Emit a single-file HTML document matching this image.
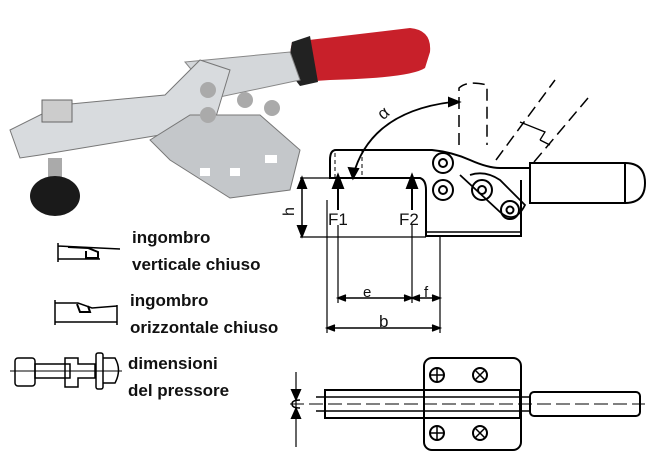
<!DOCTYPE html>
<html><head><style>
body{margin:0;background:#fff;width:650px;height:456px;overflow:hidden}
svg{display:block}
text{font-family:"Liberation Sans",sans-serif;font-weight:bold;fill:#111}
</style></head><body>
<svg width="650" height="456" viewBox="0 0 650 456">
<!-- photo approximation -->
<g>
<path d="M292 42 L410 28 Q432 30 430 52 L425 68 Q410 78 330 80 L300 82 Q286 70 292 42Z" fill="#c8202a"/>
<path d="M292 42 L310 36 L318 82 L300 86 Q286 70 292 42Z" fill="#222"/>
<path d="M185 62 L290 52 L300 80 L215 98 Z" fill="#d4d7da" stroke="#888"/>
<path d="M10 130 L60 105 L165 95 L200 60 L230 70 L215 120 L160 135 L40 155 L20 158Z" fill="#d8dbde" stroke="#777" stroke-width="1"/>
<path d="M150 140 L190 115 L260 115 L300 150 L290 190 L230 198 L170 160Z" fill="#c4c7ca" stroke="#777" stroke-width="1"/>
<rect x="200" y="168" width="10" height="8" fill="#fff"/><rect x="230" y="168" width="10" height="8" fill="#fff"/><rect x="265" y="155" width="12" height="8" fill="#fff"/>
<circle cx="208" cy="90" r="8" fill="#aaa"/><circle cx="208" cy="115" r="8" fill="#aaa"/>
<circle cx="245" cy="100" r="8" fill="#aaa"/><circle cx="272" cy="108" r="8" fill="#aaa"/>
<rect x="42" y="100" width="30" height="22" fill="#ccc" stroke="#666"/>
<rect x="48" y="158" width="14" height="22" fill="#aaa"/>
<ellipse cx="55" cy="196" rx="25" ry="20" fill="#1a1a1a"/>
</g>
<!-- side view drawing -->
<g fill="none" stroke="#000" stroke-width="2">
<path d="M336 150 L432 150 Q452 152 470 160 Q488 168 500 168 L530 168"/>
<path d="M336 150 Q330 150 330 160 L330 178 L420 178 Q426 180 426 190 L426 236 L521 236 L521 180"/>
<line x1="426" y1="232" x2="521" y2="232" stroke-width="1.5"/>
<rect x="530" y="163" width="95" height="40"/>
<path d="M625 163 Q645 163 645 183 Q645 203 625 203"/>
<circle cx="443" cy="163" r="10"/><circle cx="443" cy="190" r="10"/>
<circle cx="443" cy="163" r="4"/><circle cx="443" cy="190" r="4"/>
<path d="M460 175 L500 212 Q515 225 525 205 L500 180 Q485 170 470 175" stroke-width="1.8"/>
<circle cx="482" cy="190" r="10"/><circle cx="482" cy="190" r="4"/>
<circle cx="510" cy="210" r="9"/><circle cx="510" cy="210" r="3.5"/>
<path d="M300 178 L335 178 M300 237 L426 237" stroke-width="1.2"/>
<line x1="302" y1="182" x2="302" y2="232" stroke-width="1.5"/>
<path d="M298 188 L302 178 L306 188Z M298 226 L302 236 L306 226Z" fill="#000"/>
<line x1="338" y1="186" x2="338" y2="210" stroke-width="2"/>
<path d="M333 188 L338 175 L343 188Z" fill="#000"/>
<line x1="412" y1="186" x2="412" y2="210" stroke-width="2"/>
<path d="M407 188 L412 175 L417 188Z" fill="#000"/>
<path d="M338 225 L338 303 M412 225 L412 303 M440 237 L440 333 M327 200 L327 333" stroke-width="1.2"/>
<line x1="338" y1="298" x2="440" y2="298" stroke-width="1.5"/>
<line x1="327" y1="328" x2="440" y2="328" stroke-width="1.5"/>
<path d="M346 295 L338 298 L346 301 M404 295 L412 298 L404 301 M420 295 L412 298 L420 301 M432 295 L440 298 L432 301 M335 325 L327 328 L335 331 M432 325 L440 328 L432 331" fill="#000" stroke-width="1.5"/>
<path d="M353 176 Q370 112 452 102" stroke-width="1.8"/>
<path d="M449 98 L459 102 L449 106Z M349 168 L353 178 L358 169Z" fill="#000"/>
<g stroke-dasharray="12 6" stroke-width="1.5">
<path d="M459 145 L459 88 Q468 80 487 85 L487 145"/>
<path d="M496 160 L555 80 M534 162 L588 98"/>
</g>
<path d="M520 122 L545 132 L540 140 M540 140 L550 145" stroke-width="1.3"/>
<path d="M335 178 L335 150 M362 150 L362 178" stroke-width="1" stroke-dasharray="4 3"/>
</g>
<text x="328" y="225" font-size="17" font-weight="normal" style="font-weight:normal">F1</text>
<text x="399" y="225" font-size="17" style="font-weight:normal">F2</text>
<text x="363" y="297" font-size="15" style="font-weight:normal">e</text>
<text x="424" y="297" font-size="15" style="font-weight:normal">f</text>
<text x="379" y="327" font-size="17" style="font-weight:normal">b</text>
<text x="294" y="216" font-size="16" transform="rotate(-90 294 216)" style="font-weight:normal">h</text>
<text x="380" y="118" font-size="17" transform="rotate(-40 385 115)" style="font-weight:normal">α</text>
<!-- bottom view -->
<g fill="none" stroke="#000" stroke-width="2">
<rect x="424" y="358" width="97" height="92" rx="8"/>
<rect x="325" y="390" width="195" height="28"/>
<line x1="316" y1="397" x2="530" y2="397" stroke-width="1.5"/>
<line x1="316" y1="411" x2="530" y2="411" stroke-width="1.5"/>
<line x1="290" y1="404" x2="645" y2="404" stroke-width="1" stroke-dasharray="14 5"/>
<rect x="530" y="392" width="110" height="24" rx="4"/>
<circle cx="437" cy="375" r="7"/><circle cx="437" cy="433" r="7"/>
<circle cx="480" cy="375" r="7"/><circle cx="480" cy="433" r="7"/>
<path d="M430 375 H444 M437 368 V382 M430 433 H444 M437 426 V440 M475 370 L485 380 M485 370 L475 380 M475 428 L485 438 M485 428 L475 438" stroke-width="1.5"/>
<line x1="296" y1="372" x2="296" y2="447" stroke-width="1.2"/>
<path d="M292 390 L296 399 L300 390Z M292 418 L296 409 L300 418Z" fill="#000"/>
<path d="M300 400 Q292 400 292 404 Q292 408 300 408" stroke-width="1.5"/>
</g>
<!-- legend icons -->
<g fill="none" stroke="#000" stroke-width="1.5">
<path d="M58 243 L58 262 M58 246 L120 249 M58 259 L100 259"/>
<path d="M68 247 L88 248 L98 252 L98 258 L86 258 L86 251" stroke-width="2"/>
<path d="M55 300 L55 325 M55 303 L78 303 L92 308 L117 306 M55 322 L117 322 M117 305 L117 325"/>
<path d="M77 304 L80 312 L90 312 L88 306" stroke-width="2"/>
<rect x="15" y="358" width="20" height="28" rx="3"/>
<rect x="35" y="364" width="35" height="14"/>
<path d="M65 358 L78 358 L78 364 L95 364 L95 378 L78 378 L78 387 L65 387Z"/>
<rect x="96" y="353" width="7" height="36" rx="2"/>
<path d="M103 358 L115 358 Q122 370 115 383 L103 383"/>
<line x1="10" y1="371" x2="122" y2="371" stroke-width="1"/>
</g>
<text x="132" y="243" font-size="17">ingombro</text>
<text x="132" y="270" font-size="17">verticale chiuso</text>
<text x="130" y="306" font-size="17">ingombro</text>
<text x="130" y="333" font-size="17">orizzontale chiuso</text>
<text x="128" y="369" font-size="17">dimensioni</text>
<text x="128" y="396" font-size="17">del pressore</text>
</svg>
</body></html>
